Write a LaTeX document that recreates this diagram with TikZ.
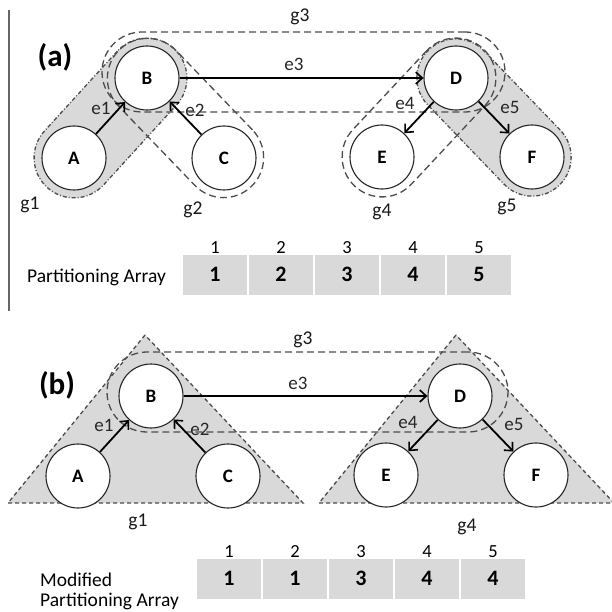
\documentclass[tikz,border=0pt]{standalone}
\usepackage{fontspec}
\setmainfont{Carlito}
\usetikzlibrary{arrows.meta,calc}
\definecolor{hullgray}{HTML}{D9D9D9}
\definecolor{dashgray}{HTML}{4D4D4D}
\tikzset{
  vert/.style={circle,draw=black!85,fill=white,line width=1.1pt,minimum size=64pt,inner sep=0pt,font=\bfseries\fontsize{19}{19}\selectfont},
  edge/.style={line width=1.8pt,-{Straight Barb[length=6.5pt,width=12pt,line width=1.6pt]}},
  elabel/.style={font=\fontsize{19}{19}\selectfont,inner sep=0pt,text=black!85},
  glabel/.style={font=\fontsize{19.5}{19.5}\selectfont,inner sep=0pt,text=black!90},
  grayhull/.style={draw=dashgray,fill=hullgray,line width=1.3pt,dash pattern=on 4pt off 2pt on 1pt off 2pt,inner sep=0pt},
  dashhull/.style={draw=dashgray,line width=1.3pt,dash pattern=on 7pt off 4pt,inner sep=0pt},
  trihull/.style={draw=dashgray,fill=hullgray,line width=1.3pt,dash pattern=on 4pt off 3pt},
  cell/.style={fill=hullgray,minimum width=64pt,minimum height=40pt,inner sep=0pt,text height=13pt,text depth=0pt,font=\bfseries\fontsize{22}{22}\selectfont},
  idx/.style={font=\fontsize{18.5}{18.5}\selectfont,inner sep=0pt,anchor=base},
  txt/.style={font=\fontsize{19.5}{22}\selectfont,inner sep=0pt,anchor=west},
  panel/.style={font=\bfseries\fontsize{31}{31}\selectfont,inner sep=0pt}
}
\begin{document}
\begin{tikzpicture}[x=1pt,y=-1pt]
\useasboundingbox (0,0) rectangle (611,612);
\fill[white] (0,0) rectangle (611,612);
% separator line
\draw[black!60,line width=1.3pt] (9,10) -- (9,311);

%%%%%%%%%%%%%%%% (a)
\node[grayhull,minimum width=188pt,minimum height=80pt,rounded corners=40pt,rotate=47.6] (g1a) at (110.5,118) {};
\node[grayhull,minimum width=188pt,minimum height=78pt,rounded corners=39pt,rotate=-46.1] (g5a) at (494,117.5) {};
\node[dashhull,minimum width=190pt,minimum height=80pt,rounded corners=40pt,rotate=-46.1] (g2a) at (185.5,118) {};
\node[dashhull,minimum width=188pt,minimum height=80pt,rounded corners=40pt,rotate=46.9] (g4a) at (419,117.5) {};
\node[dashhull,minimum width=403pt,minimum height=80pt,rounded corners=40pt] (g3a) at (303.5,72) {};

\node[vert] (Aa) at (74,158) {A};
\node[vert] (Ba) at (147,78) {B};
\node[vert] (Ca) at (224,158) {C};
\node[vert] (Da) at (456,78) {D};
\node[vert] (Ea) at (382,157) {E};
\node[vert] (Fa) at (532,157) {F};

\draw[edge] (Aa) -- (Ba);
\draw[edge] (Ca) -- (Ba);
\draw[edge] (Ba) -- (Da);
\draw[edge] (Da) -- (Ea);
\draw[edge] (Da) -- (Fa);

\node[panel] (pa) at (55,57) {(a)};
\node[elabel] (e1a) at (101,108) {e1};
\node[elabel] (e2a) at (195,110) {e2};
\node[elabel] (e3a) at (294,64) {e3};
\node[elabel] (e4a) at (405,103) {e4};
\node[elabel] (e5a) at (510,107) {e5};
\node[glabel] (lg1a) at (30,205) {g1};
\node[glabel] (lg2a) at (193,210) {g2};
\node[glabel] (lg3a) at (300,17) {g3};
\node[glabel] (lg4a) at (382,212) {g4};
\node[glabel] (lg5a) at (507,207) {g5};

\node[txt] (arra) at (27,277) {Partitioning Array};
\foreach \i/\v in {1/1,2/2,3/3,4/4,5/5}{
  \node[cell] (ca\i) at ({215+66*(\i-1)},275) {\v};
  \node[idx] (ia\i) at ({215+66*(\i-1)},253) {\i};
}

%%%%%%%%%%%%%%%% (b)
\draw[trihull] (145,335) -- (8,503) -- (303,503) -- cycle;
\draw[trihull] (456,335) -- (319,503) -- (614,503) -- cycle;
\node[dashhull,minimum width=401pt,minimum height=80pt,rounded corners=40pt] (g3b) at (307.5,392) {};

\node[vert] (Ab) at (78,476) {A};
\node[vert] (Bb) at (151,396) {B};
\node[vert] (Cb) at (228,476) {C};
\node[vert] (Db) at (460,396) {D};
\node[vert] (Eb) at (386,475) {E};
\node[vert] (Fb) at (536,475) {F};

\draw[edge] (Ab) -- (Bb);
\draw[edge] (Cb) -- (Bb);
\draw[edge] (Bb) -- (Db);
\draw[edge] (Db) -- (Eb);
\draw[edge] (Db) -- (Fb);

\node[panel] (pb) at (57,385) {(b)};
\node[elabel] (e1b) at (104,425) {e1};
\node[elabel] (e2b) at (200,429) {e2};
\node[elabel] (e3b) at (298,383) {e3};
\node[elabel] (e4b) at (408,422) {e4};
\node[elabel] (e5b) at (514,424) {e5};
\node[glabel] (lg1b) at (138,522) {g1};
\node[glabel] (lg3b) at (303,340) {g3};
\node[glabel] (lg4b) at (467,527) {g4};

\node[txt] (modb) at (40,580) {Modified};
\node[txt] (arrb) at (40,601) {Partitioning Array};
\foreach \i/\v in {1/1,2/1,3/3,4/4,5/4}{
  \node[cell] (cb\i) at ({229+66*(\i-1)},579) {\v};
  \node[idx] (ib\i) at ({229+66*(\i-1)},557) {\i};
}
\end{tikzpicture}
\end{document}
